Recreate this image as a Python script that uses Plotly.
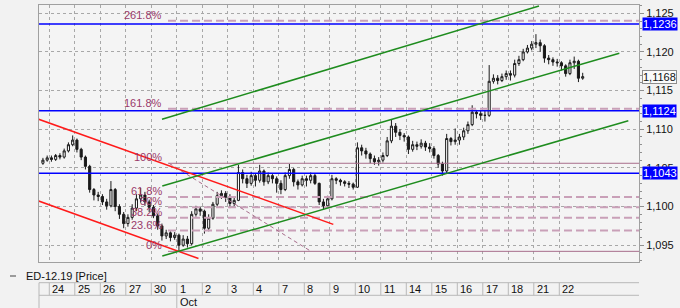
import plotly.graph_objects as go

# ---------------- data ----------------
day_labels = ["24", "25", "26", "27", "30", "1", "2", "3", "4", "7", "8",
              "9", "10", "11", "14", "15", "16", "17", "18", "21", "22"]
month_label = "Oct"
month_first_index = 5
bars_per_day = 6
pre_bars = 2  # tail of Sep 23

first_open = 1.1056
close_prices = [
    1.1060, 1.1063,                                   # 23 (tail)
    1.1061, 1.1066, 1.1064, 1.1072, 1.1080, 1.1086,   # 24
    1.1074, 1.1064, 1.1052, 1.1022, 1.1015, 1.1013,   # 25
    1.1006, 1.1001, 1.1022, 1.1000, 1.0990, 1.0978,   # 26
    1.0986, 1.0998, 1.1010, 1.1015, 1.1006, 1.0999,   # 27
    1.0988, 1.0975, 1.0962, 1.0966, 1.0960, 1.0963,   # 30
    1.0950, 1.0958, 1.0952, 1.0990, 1.0997, 1.0994,   # 1
    1.0972, 1.0985, 1.1003, 1.1014, 1.1017, 1.1012,   # 2
    1.1004, 1.1008, 1.1044, 1.1036, 1.1030, 1.1040,   # 3
    1.1034, 1.1046, 1.1032, 1.1040, 1.1036, 1.1030,   # 4
    1.1022, 1.1040, 1.1048, 1.1032, 1.1028, 1.1036,   # 7
    1.1034, 1.1040, 1.1030, 1.1006, 1.1001, 1.1010,   # 8
    1.1036, 1.1034, 1.1032, 1.1030, 1.1029, 1.1025,   # 9
    1.1076, 1.1072, 1.1068, 1.1062, 1.1058, 1.1060,   # 10
    1.1066, 1.1085, 1.1104, 1.1096, 1.1092, 1.1090,   # 11
    1.1074, 1.1080, 1.1078, 1.1082, 1.1077, 1.1075,   # 14
    1.1066, 1.1055, 1.1046, 1.1088, 1.1084, 1.1086,   # 15
    1.1090, 1.1098, 1.1106, 1.1122, 1.1120, 1.1118,   # 16
    1.1118, 1.1162, 1.1166, 1.1163, 1.1168, 1.1172,   # 17
    1.1170, 1.1185, 1.1190, 1.1200, 1.1205, 1.1210,   # 18
    1.1212, 1.1208, 1.1192, 1.1190, 1.1187, 1.1186,   # 21
    1.1182, 1.1172, 1.1186, 1.1188, 1.1166, 1.1168,   # 22
]
high_prices = [
    1.1063, 1.1066,
    1.1066, 1.1068, 1.1069, 1.1075, 1.1083, 1.1092,
    1.1088, 1.1076, 1.1066, 1.1054, 1.1024, 1.1019,
    1.1016, 1.1010, 1.1033, 1.1024, 1.1003, 1.0993,
    1.0990, 1.1003, 1.1016, 1.1024, 1.1019, 1.1009,
    1.1002, 1.0991, 1.0978, 1.0970, 1.0968, 1.0967,
    1.0965, 1.0963, 1.0962, 1.0994, 1.1001, 1.1000,
    1.0996, 1.0990, 1.1006, 1.1019, 1.1021, 1.1020,
    1.1016, 1.1012, 1.1054, 1.1048, 1.1041, 1.1045,
    1.1043, 1.1054, 1.1048, 1.1044, 1.1042, 1.1039,
    1.1034, 1.1044, 1.1055, 1.1050, 1.1035, 1.1040,
    1.1040, 1.1044, 1.1043, 1.1031, 1.1010, 1.1014,
    1.1041, 1.1038, 1.1036, 1.1034, 1.1033, 1.1031,
    1.1083, 1.1080, 1.1076, 1.1070, 1.1066, 1.1064,
    1.1070, 1.1090, 1.1113, 1.1108, 1.1100, 1.1095,
    1.1092, 1.1085, 1.1084, 1.1087, 1.1085, 1.1082,
    1.1078, 1.1068, 1.1058, 1.1094, 1.1090, 1.1101,
    1.1094, 1.1102, 1.1110, 1.1131, 1.1125, 1.1124,
    1.1124, 1.1183, 1.1171, 1.1170, 1.1172, 1.1176,
    1.1176, 1.1190, 1.1195, 1.1204, 1.1209, 1.1214,
    1.1223, 1.1216, 1.1210, 1.1196, 1.1193, 1.1191,
    1.1188, 1.1184, 1.1190, 1.1194, 1.1190, 1.1173,
]
low_prices = [
    1.1054, 1.1058,
    1.1058, 1.1059, 1.1061, 1.1062, 1.1070, 1.1078,
    1.1070, 1.1060, 1.1048, 1.1018, 1.1008, 1.1007,
    1.1002, 1.0996, 1.0999, 1.0994, 1.0984, 1.0972,
    1.0974, 1.0983, 1.0994, 1.1005, 1.1001, 1.0993,
    1.0985, 1.0970, 1.0956, 1.0958, 1.0955, 1.0957,
    1.0942, 1.0948, 1.0947, 1.0950, 1.0987, 1.0988,
    1.0965, 1.0968, 1.0983, 1.1000, 1.1010, 1.1006,
    1.0998, 1.1000, 1.1007, 1.1030, 1.1024, 1.1027,
    1.1026, 1.1031, 1.1027, 1.1029, 1.1030, 1.1018,
    1.1016, 1.1020, 1.1036, 1.1026, 1.1022, 1.1026,
    1.1026, 1.1030, 1.1028, 1.1002, 1.0996, 1.0999,
    1.1008, 1.1029, 1.1027, 1.1026, 1.1024, 1.1022,
    1.1024, 1.1066, 1.1062, 1.1056, 1.1054, 1.1053,
    1.1057, 1.1064, 1.1082, 1.1090, 1.1086, 1.1084,
    1.1068, 1.1071, 1.1073, 1.1075, 1.1072, 1.1070,
    1.1062, 1.1050, 1.1040, 1.1043, 1.1079, 1.1080,
    1.1080, 1.1086, 1.1094, 1.1104, 1.1114, 1.1112,
    1.1110, 1.1116, 1.1159, 1.1158, 1.1161, 1.1164,
    1.1163, 1.1167, 1.1182, 1.1188, 1.1198, 1.1202,
    1.1205, 1.1200, 1.1186, 1.1184, 1.1182, 1.1181,
    1.1176, 1.1168, 1.1170, 1.1178, 1.1161, 1.1164,
]
last_price = 1.1168

# trend channels: (trading-day position, price) anchor points
red_upper_t = [-0.416, 11.137]
red_upper_p = [1.11129, 1.09770]
red_lower_t = [-0.416, 5.85]
red_lower_p = [1.10072, 1.09328]
green_upper_t = [4.420, 19.204]
green_upper_p = [1.11129, 1.12594]
green_mid_t = [4.431, 22.353]
green_mid_p = [1.10266, 1.11983]
green_lower_t = [4.431, 22.706]
green_lower_p = [1.09360, 1.11111]

# blue horizontal levels
blue_levels = [1.1236, 1.1124, 1.1043]

# fibonacci tool
fib_low = 1.09421
fib_high = 1.10560
fib_start_t = 4.655
fib_label_t = 4.46
fib_ratios = [0.0, 0.236, 0.382, 0.5, 0.618, 1.0, 1.618, 2.618]
fib_labels = ["0%", "23.6%", "38.2%", "50%", "61.8%", "100%", "161.8%", "261.8%"]
fib_diag_t = [4.694, 10.263]

# ---------------- layout geometry ----------------
W, H = 680, 308
ML, MR, MT, MB = 39, 41, 5, 46
x_range = [-0.404, 23.125]
y_range = [1.09283, 1.12607]
PW = W - ML - MR
PH = H - MT - MB


def t_to_paper(t):
    return (t - x_range[0]) / (x_range[1] - x_range[0])


def px_x(px):
    return (px - ML) / PW


def px_y(py):
    return (H - MB - py) / PH


# bar positions
bar_t = [-1 + (s + 0.5) / bars_per_day for s in range(bars_per_day - pre_bars, bars_per_day)]
for d in range(len(day_labels)):
    for s in range(bars_per_day):
        bar_t.append(d + (s + 0.5) / bars_per_day)
open_prices = [first_open] + close_prices[:-1]

FONT = "Liberation Sans, Arial, sans-serif"
BLUE = "#0000FF"
RED = "#FF1A1A"
GREEN = "#1E8C1E"
FIB_TXT = "#9A3A6A"
FIB_SOLID = "#A86E8C"
FIB_DASH = "#C9A0B8"

fig = go.Figure()

fig.add_trace(go.Candlestick(
    x=bar_t, open=open_prices, high=high_prices, low=low_prices, close=close_prices,
    increasing=dict(line=dict(color="#1A1A1A", width=1), fillcolor="#FFFFFF"),
    decreasing=dict(line=dict(color="#1A1A1A", width=1), fillcolor="#1A1A1A"),
    whiskerwidth=0, showlegend=False, hoverinfo="skip",
))

# fibonacci lines
for r, lab in zip(fib_ratios, fib_labels):
    lvl = fib_low + r * (fib_high - fib_low)
    solid = r in (0.0, 1.0)
    fig.add_trace(go.Scatter(
        x=[fib_start_t, x_range[1]], y=[lvl, lvl], mode="lines",
        line=dict(color=FIB_SOLID if solid else FIB_DASH,
                  width=1 if solid else 2,
                  dash="solid" if solid else "8px,4px"),
        showlegend=False, hoverinfo="skip"))
    fig.add_annotation(x=fib_label_t, y=lvl, xref="x", yref="y", text=lab,
                       showarrow=False, xanchor="right", yanchor="bottom",
                       font=dict(family=FONT, size=11, color=FIB_TXT),
                       borderpad=0, yshift=-1)

fig.add_trace(go.Scatter(
    x=fib_diag_t, y=[fib_high, fib_low], mode="lines",
    line=dict(color=FIB_SOLID, width=1, dash="4px,3px"),
    showlegend=False, hoverinfo="skip"))

# blue levels
for lvl in blue_levels:
    fig.add_trace(go.Scatter(
        x=[x_range[0], x_range[1]], y=[lvl, lvl], mode="lines",
        line=dict(color=BLUE, width=1.5), showlegend=False, hoverinfo="skip"))

# channels
for tt, pp, col in [(red_upper_t, red_upper_p, RED), (red_lower_t, red_lower_p, RED),
                    (green_upper_t, green_upper_p, GREEN), (green_mid_t, green_mid_p, GREEN),
                    (green_lower_t, green_lower_p, GREEN)]:
    fig.add_trace(go.Scatter(x=tt, y=pp, mode="lines", line=dict(color=col, width=1.5),
                             showlegend=False, hoverinfo="skip"))

# right side value boxes
for lvl in blue_levels:
    fig.add_annotation(x=1, y=lvl, xref="paper", yref="y",
                       text=f"{lvl:.4f}".replace(".", ","), showarrow=False,
                       xanchor="left", yanchor="middle", xshift=3,
                       bgcolor=BLUE, borderpad=0,
                       font=dict(family=FONT, size=11, color="white"))
fig.add_annotation(x=1, y=last_price, xref="paper", yref="y",
                   text=f"{last_price:.4f}".replace(".", ","), showarrow=False,
                   xanchor="left", yanchor="middle", xshift=3,
                   bgcolor="#FAFAFA", bordercolor="#8C8C8C", borderwidth=1, borderpad=0,
                   font=dict(family=FONT, size=11, color="#111111"))

# legend line
shapes = []
shapes.append(dict(type="line", xref="paper", yref="paper", x0=px_x(10), x1=px_x(16),
                   y0=px_y(276), y1=px_y(276), line=dict(color="#444444", width=1)))
fig.add_annotation(x=px_x(24), y=px_y(276), xref="paper", yref="paper",
                   text="ED-12.19 [Price]", showarrow=False, xanchor="left", yanchor="middle",
                   font=dict(family=FONT, size=11, color="#111111"))

# date row
ROW_TOP, ROW_MID, ROW_BOT = 282.7, 295.3, 308
GRID_C = "#B8B8B8"
for py in (ROW_TOP, ROW_MID):
    shapes.append(dict(type="line", xref="paper", yref="paper", x0=0, x1=1,
                       y0=px_y(py), y1=px_y(py), line=dict(color=GRID_C, width=1)))
shapes.append(dict(type="line", xref="paper", yref="paper", x0=0, x1=0,
                   y0=px_y(ROW_TOP), y1=px_y(ROW_BOT), line=dict(color=GRID_C, width=1)))
for i, lab in enumerate(day_labels):
    xp = t_to_paper(i)
    shapes.append(dict(type="line", xref="paper", yref="paper", x0=xp, x1=xp,
                       y0=px_y(ROW_TOP), y1=px_y(ROW_MID), line=dict(color=GRID_C, width=1)))
    fig.add_annotation(x=xp, y=px_y(289), xref="paper", yref="paper", text=lab,
                       showarrow=False, xanchor="left", yanchor="middle", xshift=1,
                       font=dict(family=FONT, size=11, color="#111111"))
xm = t_to_paper(month_first_index)
shapes.append(dict(type="line", xref="paper", yref="paper", x0=xm, x1=xm,
                   y0=px_y(ROW_MID), y1=px_y(ROW_BOT), line=dict(color=GRID_C, width=1)))
fig.add_annotation(x=xm, y=px_y(302), xref="paper", yref="paper", text=month_label,
                   showarrow=False, xanchor="left", yanchor="middle", xshift=1,
                   font=dict(family=FONT, size=11, color="#111111"))

fig.update_layout(
    width=W, height=H, margin=dict(l=ML, r=MR, t=MT, b=MB),
    paper_bgcolor="#F2F2F2", plot_bgcolor="#F4F4F4",
    separators=",.", showlegend=False, shapes=shapes,
    font=dict(family=FONT, size=11, color="#111111"),
    xaxis=dict(range=x_range, tickvals=list(range(len(day_labels))), showticklabels=False,
               showgrid=True, gridcolor="#A8A8A8", griddash="dot", gridwidth=1,
               ticks="", zeroline=False, showline=True, mirror=True,
               linecolor="#A0A0A0", linewidth=1, rangeslider=dict(visible=False),
               fixedrange=True),
    yaxis=dict(range=y_range, side="right", tickvals=[1.095, 1.100, 1.105, 1.110, 1.115, 1.120, 1.125],
               tickformat=".3f", showgrid=True, gridcolor="#A8A8A8", griddash="dot",
               ticks="outside", ticklen=4, tickcolor="#909090",
               minor=dict(dtick=0.001, tick0=1.09, ticks="outside", ticklen=2, tickcolor="#909090",
                          showgrid=False),
               zeroline=False, showline=True, mirror=True, linecolor="#A0A0A0", linewidth=1,
               tickfont=dict(family=FONT, size=11, color="#111111"), fixedrange=True),
)

fig.write_html("out.html")
